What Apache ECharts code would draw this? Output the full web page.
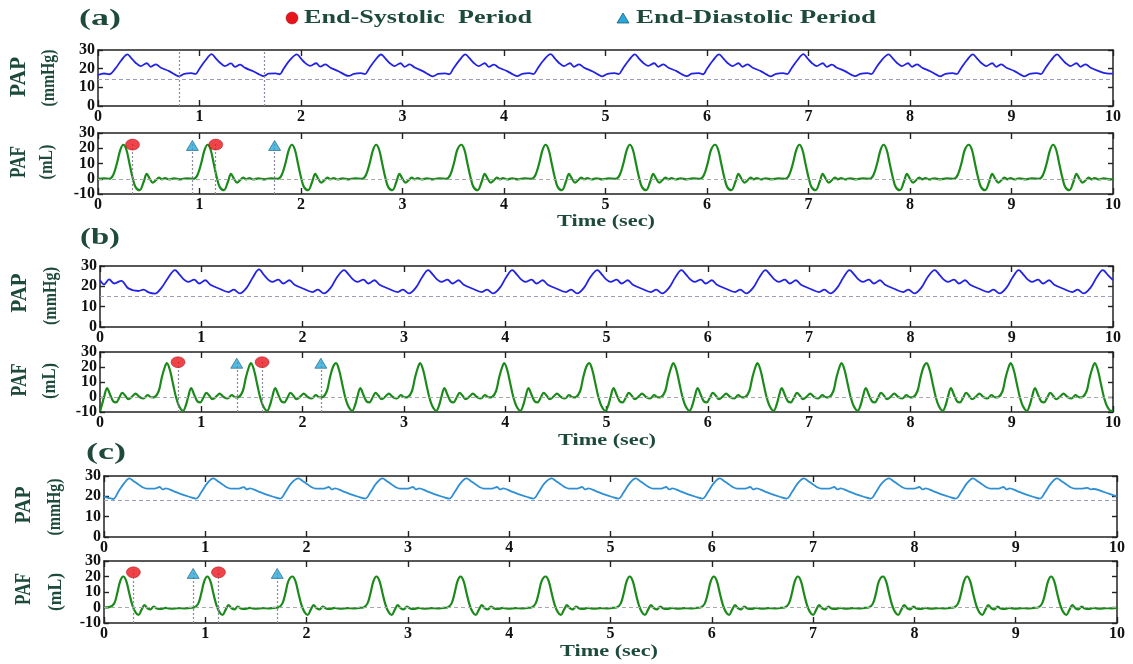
<!DOCTYPE html>
<html>
<head>
<meta charset="utf-8">
<script src="https://cdn.jsdelivr.net/npm/echarts@6/dist/echarts.min.js"></script>
<style>
  html, body { margin: 0; padding: 0; background: #fff; }
  #chart { width: 1133px; height: 664px; }
</style>
</head>
<body>
<div id="chart"></div>
<script>
// ---- data: [time (s), value] ----
const papA = [
  [0,16.6],[0.06,17.4],[0.11,17.0],[0.17,20.0],[0.23,24.5],
  [0.29,27.7],[0.33,25.5],[0.37,23.2],[0.42,21.4],[0.48,22.9],[0.52,21.0],[0.57,22.3],[0.62,20.5],[0.70,18.7],[0.76,16.8],[0.80,15.9],[0.85,17.2],[0.92,17.6],[0.96,17.1],[1.00,20.0],[1.06,24.5],
  [1.12,27.8],[1.16,25.5],[1.20,23.3],[1.25,21.4],[1.31,22.8],[1.35,21.0],[1.40,22.2],[1.45,20.4],[1.53,18.6],[1.59,16.9],[1.63,16.0],[1.68,17.3],[1.75,17.5],[1.79,17.0],[1.83,20.1],[1.89,24.6],
  [1.96,27.7],[2.00,25.4],[2.04,23.1],[2.09,21.5],[2.15,22.9],[2.19,21.1],[2.24,22.3],[2.29,20.5],[2.37,18.6],[2.43,16.8],[2.47,16.1],[2.52,17.2],[2.59,17.6],[2.63,17.1],[2.67,20.0],[2.73,24.5],
  [2.79,27.6],[2.83,25.5],[2.87,23.2],[2.92,21.4],[2.98,22.9],[3.02,21.0],[3.07,22.3],[3.12,20.6],[3.20,18.7],[3.26,16.8],[3.30,15.9],[3.35,17.2],[3.42,17.5],[3.46,17.0],[3.50,20.0],[3.56,24.4],
  [3.62,27.7],[3.66,25.6],[3.70,23.2],[3.75,21.4],[3.81,22.9],[3.85,21.0],[3.90,22.2],[3.95,20.5],[4.03,18.7],[4.09,16.9],[4.13,16.0],[4.18,17.2],[4.25,17.6],[4.29,17.1],[4.33,20.0],[4.39,24.5],
  [4.46,27.8],[4.50,25.5],[4.54,23.2],[4.59,21.4],[4.65,22.9],[4.69,21.0],[4.74,22.3],[4.79,20.5],[4.87,18.6],[4.93,16.8],[4.97,15.9],[5.02,17.2],[5.09,17.6],[5.13,17.1],[5.17,20.0],[5.23,24.5],
  [5.29,27.7],[5.33,25.4],[5.37,23.2],[5.42,21.5],[5.48,22.9],[5.52,21.0],[5.57,22.3],[5.62,20.5],[5.70,18.7],[5.76,16.8],[5.80,16.0],[5.85,17.3],[5.92,17.6],[5.96,17.0],[6.00,20.0],[6.06,24.5],
  [6.12,27.7],[6.16,25.5],[6.20,23.2],[6.25,21.4],[6.31,22.9],[6.35,21.0],[6.40,22.3],[6.45,20.5],[6.53,18.7],[6.59,16.8],[6.63,15.9],[6.68,17.2],[6.75,17.6],[6.79,17.1],[6.83,20.0],[6.89,24.5],
  [6.95,27.8],[6.99,25.5],[7.03,23.2],[7.08,21.4],[7.14,22.9],[7.18,21.0],[7.23,22.2],[7.28,20.5],[7.36,18.7],[7.42,16.8],[7.46,16.0],[7.51,17.2],[7.58,17.6],[7.62,17.1],[7.66,20.0],[7.72,24.5],
  [7.79,27.7],[7.83,25.5],[7.87,23.2],[7.92,21.4],[7.98,22.9],[8.02,21.0],[8.07,22.3],[8.12,20.5],[8.20,18.6],[8.26,16.8],[8.30,15.9],[8.35,17.2],[8.42,17.6],[8.46,17.1],[8.50,20.0],[8.56,24.5],
  [8.62,27.7],[8.66,25.5],[8.70,23.2],[8.75,21.4],[8.81,22.9],[8.85,21.0],[8.90,22.3],[8.95,20.5],[9.03,18.7],[9.09,16.8],[9.13,15.9],[9.18,17.2],[9.25,17.6],[9.29,17.1],[9.33,20.0],[9.39,24.5],
  [9.45,27.7],[9.49,25.5],[9.53,23.2],[9.58,21.4],[9.64,22.9],[9.68,21.0],[9.73,22.3],[9.78,20.5],[9.86,18.7],[9.92,17.6],[10.00,17.3]
];

const pafA = [
  [0,0],[0.06,0.2],[0.11,0],[0.15,2.5],[0.19,11],[0.22,19],
  [0.25,22.3],[0.28,19],[0.31,10],[0.34,1],[0.37,-5.5],[0.41,-7.5],[0.45,-2],[0.48,3.2],[0.51,0],[0.54,-2.6],[0.57,-1],[0.60,0.8],[0.63,-0.4],[0.66,0.4],[0.70,-0.5],[0.75,0.3],[0.81,-0.4],[0.87,0.2],[0.94,0],[0.98,2.5],[1.02,11],[1.05,19],
  [1.08,22.3],[1.11,19],[1.14,10],[1.17,1],[1.20,-5.5],[1.24,-7.5],[1.28,-2],[1.31,3.2],[1.34,0],[1.37,-2.6],[1.40,-1],[1.43,0.8],[1.46,-0.4],[1.49,0.4],[1.53,-0.5],[1.58,0.3],[1.64,-0.4],[1.70,0.2],[1.77,0],[1.81,2.5],[1.85,11],[1.88,19],
  [1.91,22.3],[1.94,19],[1.97,10],[2.00,1],[2.03,-5.5],[2.07,-7.5],[2.11,-2],[2.14,3.2],[2.17,0],[2.20,-2.6],[2.23,-1],[2.26,0.8],[2.29,-0.4],[2.32,0.4],[2.36,-0.5],[2.41,0.3],[2.47,-0.4],[2.53,0.2],[2.60,0],[2.64,2.5],[2.68,11],[2.71,19],
  [2.74,22.3],[2.77,19],[2.80,10],[2.83,1],[2.86,-5.5],[2.90,-7.5],[2.94,-2],[2.97,3.2],[3.00,0],[3.03,-2.6],[3.06,-1],[3.09,0.8],[3.12,-0.4],[3.15,0.4],[3.19,-0.5],[3.24,0.3],[3.30,-0.4],[3.36,0.2],[3.43,0],[3.47,2.5],[3.51,11],[3.54,19],
  [3.58,22.3],[3.61,19],[3.64,10],[3.67,1],[3.70,-5.5],[3.74,-7.5],[3.78,-2],[3.81,3.2],[3.84,0],[3.87,-2.6],[3.90,-1],[3.93,0.8],[3.96,-0.4],[3.99,0.4],[4.03,-0.5],[4.08,0.3],[4.14,-0.4],[4.20,0.2],[4.27,0],[4.31,2.5],[4.35,11],[4.38,19],
  [4.41,22.3],[4.44,19],[4.47,10],[4.50,1],[4.53,-5.5],[4.57,-7.5],[4.61,-2],[4.64,3.2],[4.67,0],[4.70,-2.6],[4.73,-1],[4.76,0.8],[4.79,-0.4],[4.82,0.4],[4.86,-0.5],[4.91,0.3],[4.97,-0.4],[5.03,0.2],[5.10,0],[5.14,2.5],[5.18,11],[5.21,19],
  [5.24,22.3],[5.27,19],[5.30,10],[5.33,1],[5.36,-5.5],[5.40,-7.5],[5.44,-2],[5.47,3.2],[5.50,0],[5.53,-2.6],[5.56,-1],[5.59,0.8],[5.62,-0.4],[5.65,0.4],[5.69,-0.5],[5.74,0.3],[5.80,-0.4],[5.86,0.2],[5.93,0],[5.97,2.5],[6.01,11],[6.04,19],
  [6.08,22.3],[6.11,19],[6.14,10],[6.17,1],[6.20,-5.5],[6.24,-7.5],[6.28,-2],[6.31,3.2],[6.34,0],[6.37,-2.6],[6.40,-1],[6.43,0.8],[6.46,-0.4],[6.49,0.4],[6.53,-0.5],[6.58,0.3],[6.64,-0.4],[6.70,0.2],[6.77,0],[6.81,2.5],[6.85,11],[6.88,19],
  [6.91,22.3],[6.94,19],[6.97,10],[7.00,1],[7.03,-5.5],[7.07,-7.5],[7.11,-2],[7.14,3.2],[7.17,0],[7.20,-2.6],[7.23,-1],[7.26,0.8],[7.29,-0.4],[7.32,0.4],[7.36,-0.5],[7.41,0.3],[7.47,-0.4],[7.53,0.2],[7.60,0],[7.64,2.5],[7.68,11],[7.71,19],
  [7.74,22.3],[7.77,19],[7.80,10],[7.83,1],[7.86,-5.5],[7.90,-7.5],[7.94,-2],[7.97,3.2],[8.00,0],[8.03,-2.6],[8.06,-1],[8.09,0.8],[8.12,-0.4],[8.15,0.4],[8.19,-0.5],[8.24,0.3],[8.30,-0.4],[8.36,0.2],[8.43,0],[8.47,2.5],[8.51,11],[8.54,19],
  [8.58,22.3],[8.61,19],[8.64,10],[8.67,1],[8.70,-5.5],[8.74,-7.5],[8.78,-2],[8.81,3.2],[8.84,0],[8.87,-2.6],[8.90,-1],[8.93,0.8],[8.96,-0.4],[8.99,0.4],[9.03,-0.5],[9.08,0.3],[9.14,-0.4],[9.20,0.2],[9.27,0],[9.31,2.5],[9.35,11],[9.38,19],
  [9.41,22.3],[9.44,19],[9.47,10],[9.50,1],[9.53,-5.5],[9.57,-7.5],[9.61,-2],[9.64,3.2],[9.67,0],[9.70,-2.6],[9.73,-1],[9.76,0.8],[9.79,-0.4],[9.82,0.4],[9.86,-0.5],[9.91,0.3],[9.97,-0.4],[10.00,0]
];

const papB = [
  [0,23],[0.04,21],[0.09,23.4],[0.14,21.4],[0.21,22.7],[0.28,19],[0.38,17.7],[0.43,18.4],[0.48,17],[0.54,16.4],[0.61,19.5],[0.67,24],
  [0.74,28],[0.79,25.5],[0.83,23.3],[0.87,22.2],[0.93,23.3],[0.98,21.4],[1.04,23],[1.09,20.8],[1.18,18.8],[1.27,17.2],[1.32,18.4],[1.38,16.5],[1.45,19.5],[1.51,24.5],
  [1.57,28.3],[1.62,25.5],[1.66,23.3],[1.70,22.2],[1.76,23.3],[1.81,21.4],[1.87,23],[1.92,20.8],[2.01,18.8],[2.10,17.2],[2.15,18.4],[2.21,16.5],[2.28,19.5],[2.34,24.5],
  [2.41,28],[2.46,25.5],[2.50,23.3],[2.54,22.2],[2.60,23.3],[2.65,21.4],[2.71,23],[2.76,20.8],[2.85,18.8],[2.94,17.2],[2.99,18.4],[3.05,16.5],[3.12,19.5],[3.18,24.5],
  [3.24,28],[3.29,25.5],[3.33,23.3],[3.37,22.2],[3.43,23.3],[3.48,21.4],[3.54,23],[3.59,20.8],[3.68,18.8],[3.77,17.2],[3.82,18.4],[3.88,16.5],[3.95,19.5],[4.01,24.5],
  [4.07,28],[4.12,25.5],[4.16,23.3],[4.20,22.2],[4.26,23.3],[4.31,21.4],[4.37,23],[4.42,20.8],[4.51,18.8],[4.60,17.2],[4.65,18.4],[4.71,16.5],[4.78,19.5],[4.84,24.5],
  [4.91,28],[4.96,25.5],[5.00,23.3],[5.04,22.2],[5.10,23.3],[5.15,21.4],[5.21,23],[5.26,20.8],[5.35,18.8],[5.44,17.2],[5.49,18.4],[5.55,16.5],[5.62,19.5],[5.68,24.5],
  [5.74,28],[5.79,25.5],[5.83,23.3],[5.87,22.2],[5.93,23.3],[5.98,21.4],[6.04,23],[6.09,20.8],[6.18,18.8],[6.27,17.2],[6.32,18.4],[6.38,16.5],[6.45,19.5],[6.51,24.5],
  [6.57,28],[6.62,25.5],[6.66,23.3],[6.70,22.2],[6.76,23.3],[6.81,21.4],[6.87,23],[6.92,20.8],[7.01,18.8],[7.10,17.2],[7.15,18.4],[7.21,16.5],[7.28,19.5],[7.34,24.5],
  [7.40,28],[7.45,25.5],[7.49,23.3],[7.53,22.2],[7.59,23.3],[7.64,21.4],[7.70,23],[7.75,20.8],[7.84,18.8],[7.93,17.2],[7.98,18.4],[8.04,16.5],[8.11,19.5],[8.17,24.5],
  [8.24,28],[8.29,25.5],[8.33,23.3],[8.37,22.2],[8.43,23.3],[8.48,21.4],[8.54,23],[8.59,20.8],[8.68,18.8],[8.77,17.2],[8.82,18.4],[8.88,16.5],[8.95,19.5],[9.01,24.5],
  [9.07,28],[9.12,25.5],[9.16,23.3],[9.20,22.2],[9.26,23.3],[9.31,21.4],[9.37,23],[9.42,20.8],[9.51,18.8],[9.60,17.2],[9.65,18.4],[9.71,16.5],[9.78,19.5],[9.84,24.5],
  [9.90,28],[9.95,25.5],[10.00,23]
];

const pafB = [
  [0,-9.5],[0.02,-5],[0.04,0],[0.07,6],[0.10,1.5],[0.13,-2.8],[0.16,-3.6],[0.19,-0.5],[0.22,2.8],[0.25,0.8],[0.28,-1.5],[0.32,0.5],[0.35,2.2],[0.39,0],[0.43,-1],[0.47,1.2],[0.51,-0.3],[0.54,0],[0.58,4],[0.61,13],[0.64,20],
  [0.66,22.6],[0.69,18],[0.72,9],[0.75,0],[0.78,-6],[0.82,-9.2],[0.85,-5],[0.87,0],[0.90,6],[0.93,1.5],[0.96,-2.8],[0.99,-3.6],[1.02,-0.5],[1.05,2.8],[1.08,0.8],[1.11,-1.5],[1.15,0.5],[1.18,2.2],[1.22,0],[1.26,-1],[1.30,1.2],[1.34,-0.3],[1.37,0],[1.41,4],[1.44,13],[1.47,20],
  [1.49,22.6],[1.52,18],[1.55,9],[1.58,0],[1.61,-6],[1.65,-9.2],[1.68,-5],[1.70,0],[1.73,6],[1.76,1.5],[1.79,-2.8],[1.82,-3.6],[1.85,-0.5],[1.88,2.8],[1.91,0.8],[1.94,-1.5],[1.98,0.5],[2.01,2.2],[2.05,0],[2.09,-1],[2.13,1.2],[2.17,-0.3],[2.20,0],[2.24,4],[2.27,13],[2.30,20],
  [2.33,22.6],[2.36,18],[2.39,9],[2.42,0],[2.45,-6],[2.49,-9.2],[2.52,-5],[2.54,0],[2.57,6],[2.60,1.5],[2.63,-2.8],[2.66,-3.6],[2.69,-0.5],[2.72,2.8],[2.75,0.8],[2.78,-1.5],[2.82,0.5],[2.85,2.2],[2.89,0],[2.93,-1],[2.97,1.2],[3.01,-0.3],[3.04,0],[3.08,4],[3.11,13],[3.14,20],
  [3.16,22.6],[3.19,18],[3.22,9],[3.25,0],[3.28,-6],[3.32,-9.2],[3.35,-5],[3.37,0],[3.40,6],[3.43,1.5],[3.46,-2.8],[3.49,-3.6],[3.52,-0.5],[3.55,2.8],[3.58,0.8],[3.61,-1.5],[3.65,0.5],[3.68,2.2],[3.72,0],[3.76,-1],[3.80,1.2],[3.84,-0.3],[3.87,0],[3.91,4],[3.94,13],[3.97,20],
  [3.99,22.6],[4.02,18],[4.05,9],[4.08,0],[4.11,-6],[4.15,-9.2],[4.18,-5],[4.20,0],[4.23,6],[4.26,1.5],[4.29,-2.8],[4.32,-3.6],[4.35,-0.5],[4.38,2.8],[4.41,0.8],[4.44,-1.5],[4.48,0.5],[4.51,2.2],[4.55,0],[4.59,-1],[4.63,1.2],[4.67,-0.3],[4.70,0],[4.74,4],[4.77,13],[4.80,20],
  [4.83,22.6],[4.86,18],[4.89,9],[4.92,0],[4.95,-6],[4.99,-9.2],[5.02,-5],[5.04,0],[5.07,6],[5.10,1.5],[5.13,-2.8],[5.16,-3.6],[5.19,-0.5],[5.22,2.8],[5.25,0.8],[5.28,-1.5],[5.32,0.5],[5.35,2.2],[5.39,0],[5.43,-1],[5.47,1.2],[5.51,-0.3],[5.54,0],[5.58,4],[5.61,13],[5.64,20],
  [5.66,22.6],[5.69,18],[5.72,9],[5.75,0],[5.78,-6],[5.82,-9.2],[5.85,-5],[5.87,0],[5.90,6],[5.93,1.5],[5.96,-2.8],[5.99,-3.6],[6.02,-0.5],[6.05,2.8],[6.08,0.8],[6.11,-1.5],[6.15,0.5],[6.18,2.2],[6.22,0],[6.26,-1],[6.30,1.2],[6.34,-0.3],[6.37,0],[6.41,4],[6.44,13],[6.47,20],
  [6.49,22.6],[6.52,18],[6.55,9],[6.58,0],[6.61,-6],[6.65,-9.2],[6.68,-5],[6.70,0],[6.73,6],[6.76,1.5],[6.79,-2.8],[6.82,-3.6],[6.85,-0.5],[6.88,2.8],[6.91,0.8],[6.94,-1.5],[6.98,0.5],[7.01,2.2],[7.05,0],[7.09,-1],[7.13,1.2],[7.17,-0.3],[7.20,0],[7.24,4],[7.27,13],[7.30,20],
  [7.32,22.6],[7.35,18],[7.38,9],[7.41,0],[7.44,-6],[7.48,-9.2],[7.51,-5],[7.53,0],[7.56,6],[7.59,1.5],[7.62,-2.8],[7.65,-3.6],[7.68,-0.5],[7.71,2.8],[7.74,0.8],[7.77,-1.5],[7.81,0.5],[7.84,2.2],[7.88,0],[7.92,-1],[7.96,1.2],[8.00,-0.3],[8.03,0],[8.07,4],[8.10,13],[8.13,20],
  [8.16,22.6],[8.19,18],[8.22,9],[8.25,0],[8.28,-6],[8.32,-9.2],[8.35,-5],[8.37,0],[8.40,6],[8.43,1.5],[8.46,-2.8],[8.49,-3.6],[8.52,-0.5],[8.55,2.8],[8.58,0.8],[8.61,-1.5],[8.65,0.5],[8.68,2.2],[8.72,0],[8.76,-1],[8.80,1.2],[8.84,-0.3],[8.87,0],[8.91,4],[8.94,13],[8.97,20],
  [8.99,22.6],[9.02,18],[9.05,9],[9.08,0],[9.11,-6],[9.15,-9.2],[9.18,-5],[9.20,0],[9.23,6],[9.26,1.5],[9.29,-2.8],[9.32,-3.6],[9.35,-0.5],[9.38,2.8],[9.41,0.8],[9.44,-1.5],[9.48,0.5],[9.51,2.2],[9.55,0],[9.59,-1],[9.63,1.2],[9.67,-0.3],[9.70,0],[9.74,4],[9.77,13],[9.80,20],
  [9.82,22.6],[9.85,18],[9.88,9],[9.91,0],[9.94,-6],[9.98,-9.2],[10.00,-8.8]
];

const papC = [
  [0,19.9],[0.04,19.3],[0.09,18.7],[0.15,23],[0.20,26.5],
  [0.25,28.8],[0.29,27.6],[0.33,26.2],[0.38,24.5],[0.42,23.8],[0.50,23.8],[0.55,24.6],[0.58,23.4],[0.61,23.9],[0.68,22.7],[0.76,21.1],[0.84,19.8],[0.91,18.9],[0.96,22],[1.02,26.5],
  [1.08,28.8],[1.12,27.6],[1.16,26.2],[1.21,24.5],[1.25,23.8],[1.33,23.8],[1.38,24.5],[1.41,23.4],[1.44,23.9],[1.51,22.7],[1.59,21.1],[1.67,19.8],[1.74,18.9],[1.79,22],[1.85,26.5],
  [1.92,28.8],[1.96,27.6],[2.00,26.2],[2.05,24.5],[2.09,23.8],[2.17,23.8],[2.22,24.6],[2.25,23.4],[2.28,23.9],[2.35,22.7],[2.43,21.1],[2.51,19.8],[2.58,18.9],[2.63,22],[2.69,26.5],
  [2.75,28.8],[2.79,27.6],[2.83,26.2],[2.88,24.5],[2.92,23.8],[3.00,23.8],[3.05,24.6],[3.08,23.4],[3.11,23.9],[3.18,22.7],[3.26,21.1],[3.34,19.8],[3.41,18.9],[3.46,22],[3.52,26.5],
  [3.58,28.8],[3.62,27.6],[3.66,26.2],[3.71,24.5],[3.75,23.8],[3.83,23.8],[3.88,24.6],[3.91,23.4],[3.94,23.9],[4.01,22.7],[4.09,21.1],[4.17,19.8],[4.24,18.9],[4.29,22],[4.35,26.5],
  [4.42,28.8],[4.46,27.6],[4.50,26.2],[4.55,24.5],[4.59,23.8],[4.67,23.8],[4.72,24.6],[4.75,23.4],[4.78,23.9],[4.85,22.7],[4.93,21.1],[5.01,19.8],[5.08,18.9],[5.13,22],[5.19,26.5],
  [5.25,28.8],[5.29,27.6],[5.33,26.2],[5.38,24.5],[5.42,23.8],[5.50,23.8],[5.55,24.6],[5.58,23.4],[5.61,23.9],[5.68,22.7],[5.76,21.1],[5.84,19.8],[5.91,18.9],[5.96,22],[6.02,26.5],
  [6.08,28.8],[6.12,27.6],[6.16,26.2],[6.21,24.5],[6.25,23.8],[6.33,23.8],[6.38,24.6],[6.41,23.4],[6.44,23.9],[6.51,22.7],[6.59,21.1],[6.67,19.8],[6.74,18.9],[6.79,22],[6.85,26.5],
  [6.91,28.8],[6.95,27.6],[6.99,26.2],[7.04,24.5],[7.08,23.8],[7.16,23.8],[7.21,24.6],[7.24,23.4],[7.27,23.9],[7.34,22.7],[7.42,21.1],[7.50,19.8],[7.57,18.9],[7.62,22],[7.68,26.5],
  [7.75,28.8],[7.79,27.6],[7.83,26.2],[7.88,24.5],[7.92,23.8],[8.00,23.8],[8.05,24.6],[8.08,23.4],[8.11,23.9],[8.18,22.7],[8.26,21.1],[8.34,19.8],[8.41,18.9],[8.46,22],[8.52,26.5],
  [8.58,28.8],[8.62,27.6],[8.66,26.2],[8.71,24.5],[8.75,23.8],[8.83,23.8],[8.88,24.6],[8.91,23.4],[8.94,23.9],[9.01,22.7],[9.09,21.1],[9.17,19.8],[9.24,18.9],[9.29,22],[9.35,26.5],
  [9.41,28.8],[9.45,27.6],[9.49,26.2],[9.54,24.5],[9.58,23.8],[9.66,23.8],[9.71,24.2],[9.74,23.4],[9.77,23.6],[9.84,22.7],[9.92,21.3],[10.00,20]
];

const pafC = [
  [0,0],[0.05,0.2],[0.10,2.5],[0.13,9],[0.16,17],
  [0.19,20],[0.22,17],[0.25,9],[0.28,1.5],[0.31,-3],[0.34,-4.8],[0.37,-1.5],[0.40,1.5],[0.43,-0.5],[0.46,-1.2],[0.49,0.6],[0.52,-0.6],[0.56,-0.9],[0.61,-0.3],[0.67,-0.8],[0.73,-0.4],[0.79,-0.6],[0.85,-0.2],[0.89,0],[0.93,2.5],[0.96,9],[0.99,17],
  [1.02,20],[1.05,17],[1.08,9],[1.11,1.5],[1.14,-3],[1.17,-4.8],[1.20,-1.5],[1.23,1.5],[1.26,-0.5],[1.29,-1.2],[1.32,0.6],[1.35,-0.6],[1.39,-0.9],[1.44,-0.3],[1.50,-0.8],[1.56,-0.4],[1.62,-0.6],[1.68,-0.2],[1.72,0],[1.76,2.5],[1.79,9],[1.82,17],
  [1.86,20],[1.89,17],[1.92,9],[1.95,1.5],[1.98,-3],[2.01,-4.8],[2.04,-1.5],[2.07,1.5],[2.10,-0.5],[2.13,-1.2],[2.16,0.6],[2.19,-0.6],[2.23,-0.9],[2.28,-0.3],[2.34,-0.8],[2.40,-0.4],[2.46,-0.6],[2.52,-0.2],[2.56,0],[2.60,2.5],[2.63,9],[2.66,17],
  [2.69,20],[2.72,17],[2.75,9],[2.78,1.5],[2.81,-3],[2.84,-4.8],[2.87,-1.5],[2.90,1.5],[2.93,-0.5],[2.96,-1.2],[2.99,0.6],[3.02,-0.6],[3.06,-0.9],[3.11,-0.3],[3.17,-0.8],[3.23,-0.4],[3.29,-0.6],[3.35,-0.2],[3.39,0],[3.43,2.5],[3.46,9],[3.49,17],
  [3.52,20],[3.55,17],[3.58,9],[3.61,1.5],[3.64,-3],[3.67,-4.8],[3.70,-1.5],[3.73,1.5],[3.76,-0.5],[3.79,-1.2],[3.82,0.6],[3.85,-0.6],[3.89,-0.9],[3.94,-0.3],[4.00,-0.8],[4.06,-0.4],[4.12,-0.6],[4.18,-0.2],[4.22,0],[4.26,2.5],[4.29,9],[4.32,17],
  [4.36,20],[4.39,17],[4.42,9],[4.45,1.5],[4.48,-3],[4.51,-4.8],[4.54,-1.5],[4.57,1.5],[4.60,-0.5],[4.63,-1.2],[4.66,0.6],[4.69,-0.6],[4.73,-0.9],[4.78,-0.3],[4.84,-0.8],[4.90,-0.4],[4.96,-0.6],[5.02,-0.2],[5.06,0],[5.10,2.5],[5.13,9],[5.16,17],
  [5.19,20],[5.22,17],[5.25,9],[5.28,1.5],[5.31,-3],[5.34,-4.8],[5.37,-1.5],[5.40,1.5],[5.43,-0.5],[5.46,-1.2],[5.49,0.6],[5.52,-0.6],[5.56,-0.9],[5.61,-0.3],[5.67,-0.8],[5.73,-0.4],[5.79,-0.6],[5.85,-0.2],[5.89,0],[5.93,2.5],[5.96,9],[5.99,17],
  [6.02,20],[6.05,17],[6.08,9],[6.11,1.5],[6.14,-3],[6.17,-4.8],[6.20,-1.5],[6.23,1.5],[6.26,-0.5],[6.29,-1.2],[6.32,0.6],[6.35,-0.6],[6.39,-0.9],[6.44,-0.3],[6.50,-0.8],[6.56,-0.4],[6.62,-0.6],[6.68,-0.2],[6.72,0],[6.76,2.5],[6.79,9],[6.82,17],
  [6.85,20],[6.88,17],[6.91,9],[6.94,1.5],[6.97,-3],[7.00,-4.8],[7.03,-1.5],[7.06,1.5],[7.09,-0.5],[7.12,-1.2],[7.15,0.6],[7.18,-0.6],[7.22,-0.9],[7.27,-0.3],[7.33,-0.8],[7.39,-0.4],[7.45,-0.6],[7.51,-0.2],[7.55,0],[7.59,2.5],[7.62,9],[7.65,17],
  [7.69,20],[7.72,17],[7.75,9],[7.78,1.5],[7.81,-3],[7.84,-4.8],[7.87,-1.5],[7.90,1.5],[7.93,-0.5],[7.96,-1.2],[7.99,0.6],[8.02,-0.6],[8.06,-0.9],[8.11,-0.3],[8.17,-0.8],[8.23,-0.4],[8.29,-0.6],[8.35,-0.2],[8.39,0],[8.43,2.5],[8.46,9],[8.49,17],
  [8.52,20],[8.55,17],[8.58,9],[8.61,1.5],[8.64,-3],[8.67,-4.8],[8.70,-1.5],[8.73,1.5],[8.76,-0.5],[8.79,-1.2],[8.82,0.6],[8.85,-0.6],[8.89,-0.9],[8.94,-0.3],[9.00,-0.8],[9.06,-0.4],[9.12,-0.6],[9.18,-0.2],[9.22,0],[9.26,2.5],[9.29,9],[9.32,17],
  [9.35,20],[9.38,17],[9.41,9],[9.44,1.5],[9.47,-3],[9.50,-4.8],[9.53,-1.5],[9.56,1.5],[9.59,-0.5],[9.62,-1.2],[9.65,0.6],[9.68,-0.6],[9.72,-0.9],[9.77,-0.3],[9.83,-0.8],[9.89,-0.4],[9.95,-0.6],[10.00,-0.3]
];

// end-systolic (red dots) and end-diastolic (triangles) markers, per panel
const sysA = [[0.34, 22.4], [1.16, 22.4]];
const diaA = [[0.93, 21.8], [1.74, 21.8]];
const sysB = [[0.77, 23.2], [1.60, 23.2]];
const diaB = [[1.35, 22.5], [2.18, 22.5]];
const sysC = [[0.29, 22.7], [1.13, 22.7]];
const diaC = [[0.88, 22.0], [1.71, 22.0]];

// vertical period lines in the first PAP panel, and dashed baselines
const papALines = [0.80, 1.64];
const papBase = [14.5, 15, 18.2];
const pafBase = 0;

// tick labels
const xTickLabels = [0, 1, 2, 3, 4, 5, 6, 7, 8, 9, 10];
const papTickLabels = [0, 10, 20, 30];
const pafTickLabels = [-10, 0, 10, 20, 30];

// ---- chart ----
let chart = echarts.init(document.getElementById("chart"));

const SERIF = '"Liberation Serif", "Times New Roman", serif';
const INK = "#1d4a3a";
const measureCtx = document.createElement("canvas").getContext("2d");

function fitScale(text, px, target) {
    measureCtx.font = "bold " + px + "px " + SERIF;
    return target / measureCtx.measureText(text).width;
}

function textEl(text, x, y, px, width, rotated, thick) {
    let s = fitScale(text, px, width);
    return {
        type: "text",
        x: x,
        y: y,
        rotation: rotated ? Math.PI / 2 : 0,
        scaleX: s,
        scaleY: thick || 1,
        silent: true,
        style: {
            text: text,
            font: "bold " + px + "px " + SERIF,
            fill: INK,
            align: "center",
            verticalAlign: "middle",
            textAlign: "center",
            textVerticalAlign: "middle",
        },
    };
}

const grids = [
    { left: 98, right: 20, top: 50, height: 56 },
    { left: 98, right: 20, top: 133, height: 61 },
    { left: 100, right: 20, top: 266, height: 61 },
    { left: 100, right: 20, top: 352, height: 60 },
    { left: 104, right: 16, top: 476, height: 61 },
    { left: 104, right: 16, top: 561, height: 62 },
];

const axisLine = { onZero: false, lineStyle: { color: "#222", width: 1.5 } };

function labelStyle(values, show) {
    return {
        show: show,
        customValues: values,
        fontFamily: SERIF,
        fontWeight: "bold",
        fontSize: 16,
        color: "#111",
        margin: 3,
        hideOverlap: false,
        showMinLabel: true,
        showMaxLabel: true,
    };
}

function tickStyle(values, len) {
    return {
        inside: true,
        length: len,
        customValues: values,
        lineStyle: { color: "#222", width: 1.4 },
    };
}

let xAxes = [];
let yAxes = [];
let extraY = [];
grids.forEach(function (g, i) {
    let yVals = i % 2 === 0 ? papTickLabels : pafTickLabels;
    ["bottom", "top"].forEach(function (pos) {
        xAxes.push({
            gridIndex: i,
            type: "value",
            position: pos,
            min: xTickLabels[0],
            max: xTickLabels[xTickLabels.length - 1],
            interval: 1,
            axisLine: axisLine,
            axisTick: tickStyle(xTickLabels, 6),
            splitLine: { show: false },
            axisLabel: labelStyle(xTickLabels, pos === "bottom"),
        });
    });
    // the PAF scale is tight, so its labels are split over two left axes
    // sharing the same range; each keeps every second label
    let mainLabels = yVals;
    if (i % 2 === 1) {
        mainLabels = yVals.filter(function (v, k) { return k % 2 === 0; });
        extraY.push({
            gridIndex: i,
            type: "value",
            position: "left",
            min: yVals[0],
            max: yVals[yVals.length - 1],
            interval: 10,
            axisLine: { show: false },
            axisTick: { show: false },
            splitLine: { show: false },
            axisLabel: labelStyle(yVals.filter(function (v, k) { return k % 2 === 1; }), true),
        });
    }
    ["left", "right"].forEach(function (pos) {
        yAxes.push({
            gridIndex: i,
            type: "value",
            position: pos,
            min: yVals[0],
            max: yVals[yVals.length - 1],
            interval: 10,
            axisLine: axisLine,
            axisTick: tickStyle(yVals, 5),
            splitLine: { show: false },
            axisLabel: labelStyle(mainLabels, pos === "left"),
        });
    });
});
yAxes = yAxes.concat(extraY);

function baseLine(v, color) {
    return { yAxis: v, lineStyle: { type: [4, 3], color: color, width: 1 } };
}

function stem(p) {
    return [
        { coord: [p[0], -10], lineStyle: { type: [2, 2], color: "#8c8c9c", width: 1.2 } },
        { coord: [p[0], p[1] + 1.5] },
    ];
}

function waveSeries(i, data, color, width, marks) {
    return {
        type: "line",
        xAxisIndex: i * 2,
        yAxisIndex: i * 2,
        data: data,
        showSymbol: false,
        smooth: 0.35,
        lineStyle: { color: color, width: width },
        markLine: {
            silent: true,
            symbol: "none",
            label: { show: false },
            data: marks,
        },
        z: 3,
    };
}

function markerSeries(i, data, shape) {
    let red = shape === "circle";
    return {
        type: "scatter",
        xAxisIndex: i * 2,
        yAxisIndex: i * 2,
        data: data,
        symbol: shape,
        symbolSize: red ? [14, 11] : [12, 10],
        itemStyle: red
            ? { color: "#e8141c", borderColor: "#a30d12", borderWidth: 0.6 }
            : { color: "#2aa6d8", borderColor: "#17607f", borderWidth: 0.8 },
        z: 6,
    };
}

const PAP_BLUE = "#2222e6";
const PAP_SKY = "#2e8fd4";
const PAF_GREEN = "#1b8a1b";
const PAP_REF = "#9c9cbc";
const PAF_REF = "#a8a8a8";

let series = [
    waveSeries(0, papA, PAP_BLUE, 1.8, [baseLine(papBase[0], PAP_REF)].concat(
        papALines.map(function (t) {
            return { xAxis: t, lineStyle: { type: [2, 2], color: "#8c8c9c", width: 1.2 } };
        })
    )),
    waveSeries(1, pafA, PAF_GREEN, 2.2, [baseLine(pafBase, PAF_REF)].concat(sysA.map(stem), diaA.map(stem))),
    waveSeries(2, papB, PAP_BLUE, 1.8, [baseLine(papBase[1], PAP_REF)]),
    waveSeries(3, pafB, PAF_GREEN, 2.2, [baseLine(pafBase, PAF_REF)].concat(sysB.map(stem), diaB.map(stem))),
    waveSeries(4, papC, PAP_SKY, 1.8, [baseLine(papBase[2], PAP_REF)]),
    waveSeries(5, pafC, PAF_GREEN, 2.2, [baseLine(pafBase, PAF_REF)].concat(sysC.map(stem), diaC.map(stem))),
    markerSeries(1, sysA, "circle"),
    markerSeries(1, diaA, "triangle"),
    markerSeries(3, sysB, "circle"),
    markerSeries(3, diaB, "triangle"),
    markerSeries(5, sysC, "circle"),
    markerSeries(5, diaC, "triangle"),
];

let graphics = [
    // panel letters
    textEl("(a)", 100, 19, 24, 42),
    textEl("(b)", 100, 238, 24, 40),
    textEl("(c)", 106, 453, 24, 40),
    // legend
    { type: "circle", shape: { cx: 292, cy: 18, r: 6 }, style: { fill: "#e8141c", stroke: "#a30d12", lineWidth: 0.5 } },
    textEl("End-Systolic  Period", 418, 18, 19, 228),
    { type: "polygon", shape: { points: [[623, 13], [629, 23], [617, 23]] }, style: { fill: "#2aa6d8", stroke: "#17607f", lineWidth: 0.8 } },
    textEl("End-Diastolic Period", 756, 18, 19, 240),
    // x axis titles
    textEl("Time (sec)", 606, 222, 17, 98),
    textEl("Time (sec)", 607, 441, 17, 98),
    textEl("Time (sec)", 609, 652, 17, 98),
    // y axis titles
    textEl("PAP", 19, 77, 20, 40, true, 1.15),
    textEl("(mmHg)", 49, 78, 16, 57, true, 1.15),
    textEl("PAF", 19, 162, 20, 32, true, 1.15),
    textEl("(mL)", 47, 162, 16, 35, true, 1.15),
    textEl("PAP", 20, 293, 20, 39, true, 1.15),
    textEl("(mmHg)", 51, 296, 16, 58, true, 1.15),
    textEl("PAF", 20, 380, 20, 33, true, 1.15),
    textEl("(mL)", 50, 381, 16, 36, true, 1.15),
    textEl("PAP", 24, 505, 20, 37, true, 1.15),
    textEl("(mmHg)", 55, 507, 16, 57, true, 1.15),
    textEl("PAF", 24, 589, 20, 32, true, 1.15),
    textEl("(mL)", 56, 592, 16, 38, true, 1.15),
];

let options = {
    animation: false,
    backgroundColor: "#ffffff",
    grid: grids,
    xAxis: xAxes,
    yAxis: yAxes,
    series: series,
    graphic: graphics,
};
chart.setOption(options);
</script>
</body>
</html>
